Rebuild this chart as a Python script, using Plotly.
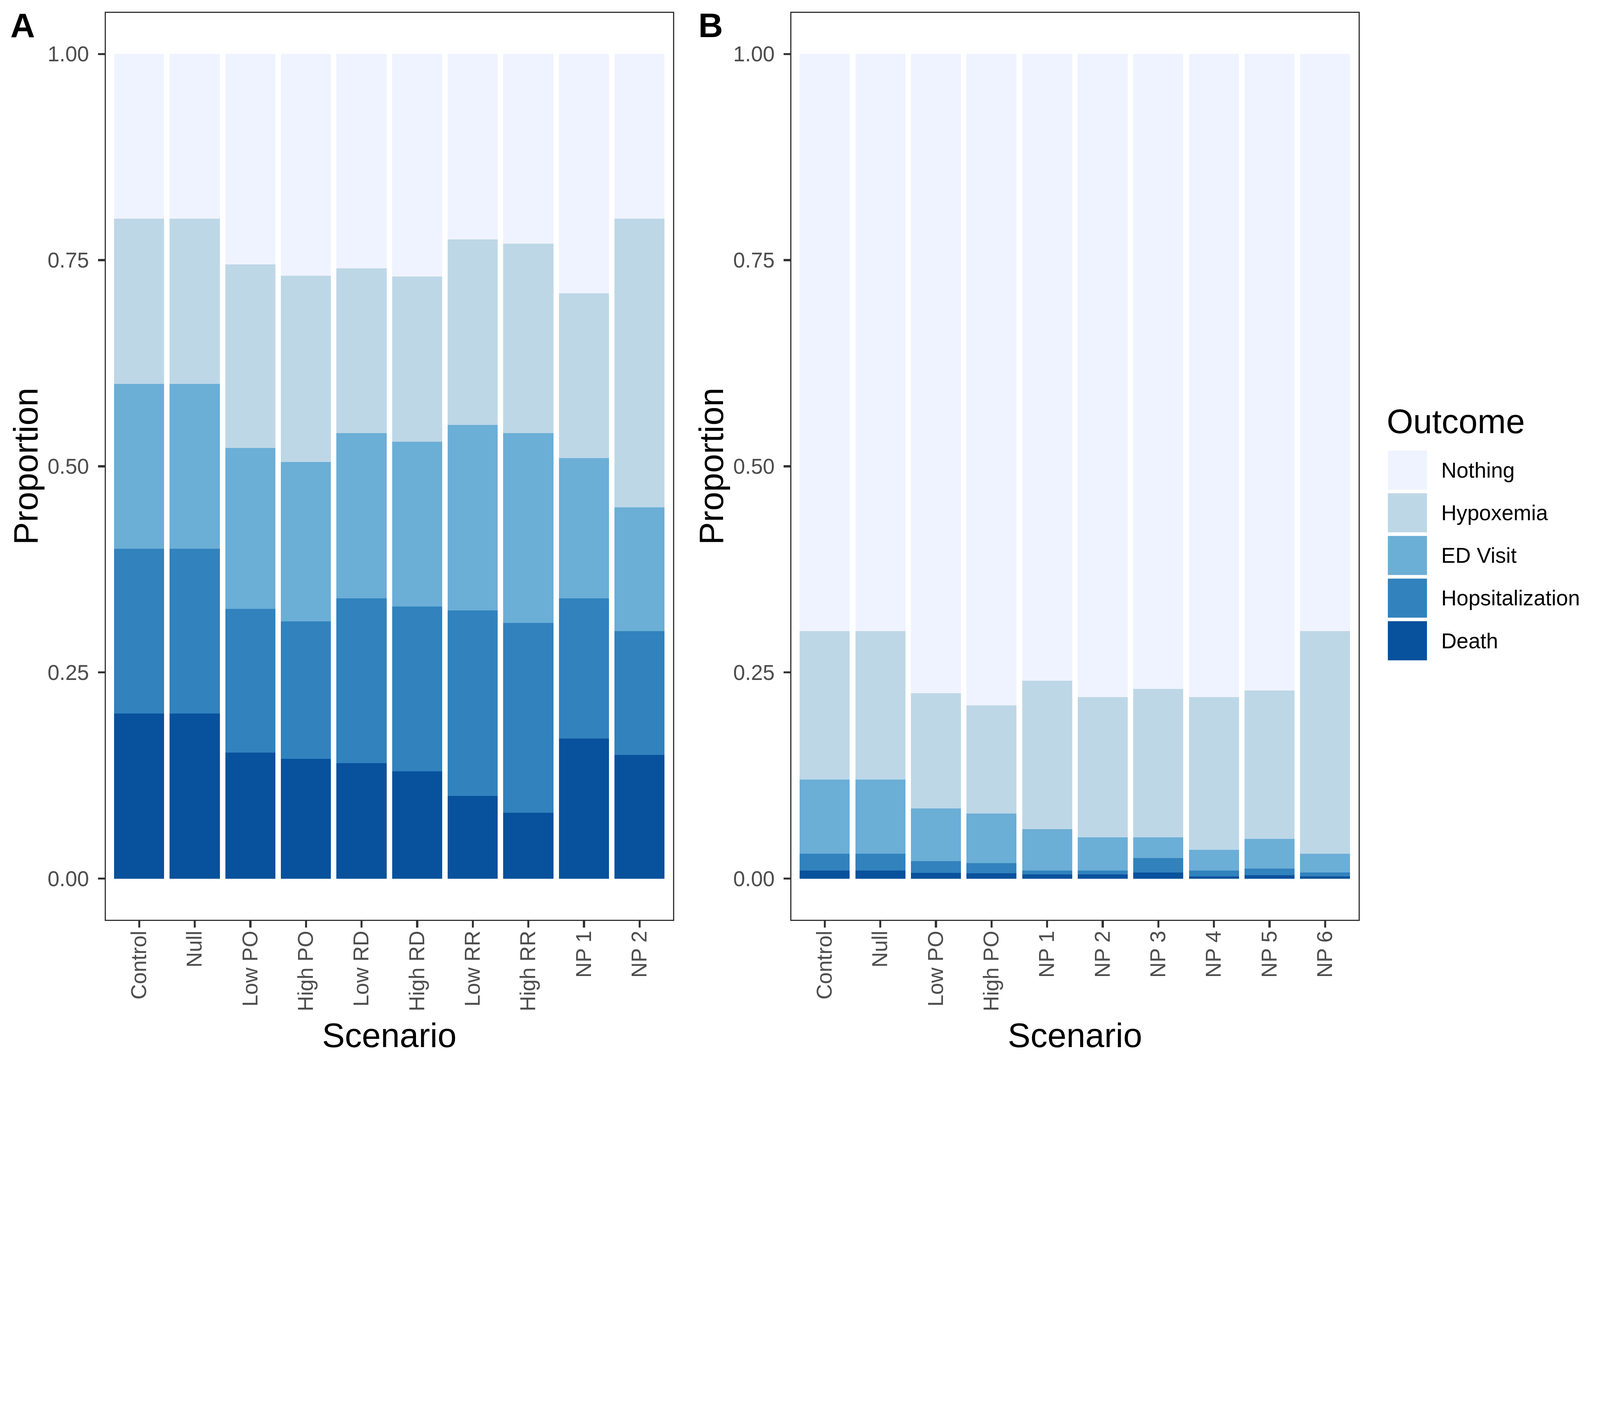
import plotly.graph_objects as go

# ---------------- data ----------------
OUTCOMES = ["Nothing", "Hypoxemia", "ED Visit", "Hopsitalization", "Death"]
COLORS = {
    "Nothing": "#EFF3FF",
    "Hypoxemia": "#BDD7E7",
    "ED Visit": "#6BAED6",
    "Hopsitalization": "#3182BD",
    "Death": "#08519C",
}

# Panel A
scen_a = ["Control", "Null", "Low PO", "High PO", "Low RD", "High RD",
          "Low RR", "High RR", "NP 1", "NP 2"]
a_death = [0.20, 0.20, 0.153, 0.145, 0.14, 0.13, 0.10, 0.08, 0.17, 0.15]
a_hosp = [0.20, 0.20, 0.174, 0.167, 0.20, 0.20, 0.225, 0.23, 0.17, 0.15]
a_ed = [0.20, 0.20, 0.195, 0.193, 0.20, 0.20, 0.225, 0.23, 0.17, 0.15]
a_hyp = [0.20, 0.20, 0.223, 0.226, 0.20, 0.20, 0.225, 0.23, 0.20, 0.35]
a_nothing = [0.20, 0.20, 0.255, 0.269, 0.26, 0.27, 0.225, 0.23, 0.29, 0.20]

# Panel B
scen_b = ["Control", "Null", "Low PO", "High PO", "NP 1", "NP 2",
          "NP 3", "NP 4", "NP 5", "NP 6"]
b_death = [0.010, 0.010, 0.007, 0.0065, 0.005, 0.005, 0.0075, 0.0025, 0.004, 0.0025]
b_hosp = [0.020, 0.020, 0.014, 0.0125, 0.005, 0.005, 0.0175, 0.0075, 0.008, 0.005]
b_ed = [0.090, 0.090, 0.064, 0.060, 0.050, 0.040, 0.025, 0.025, 0.036, 0.0225]
b_hyp = [0.180, 0.180, 0.140, 0.131, 0.180, 0.170, 0.180, 0.185, 0.180, 0.270]
b_nothing = [0.700, 0.700, 0.775, 0.790, 0.760, 0.780, 0.770, 0.780, 0.772, 0.700]

y_ticks = [0.0, 0.25, 0.5, 0.75, 1.0]

FONT = "Liberation Sans, Arial, Helvetica, sans-serif"
W, H = 5400, 3600

fig = go.Figure()

panel_a = {"Death": a_death, "Hopsitalization": a_hosp, "ED Visit": a_ed,
           "Hypoxemia": a_hyp, "Nothing": a_nothing}
panel_b = {"Death": b_death, "Hopsitalization": b_hosp, "ED Visit": b_ed,
           "Hypoxemia": b_hyp, "Nothing": b_nothing}

stack_order = ["Death", "Hopsitalization", "ED Visit", "Hypoxemia", "Nothing"]
for name in stack_order:
    fig.add_trace(go.Bar(x=scen_a, y=panel_a[name], name=name,
                         marker=dict(color=COLORS[name], line=dict(width=0)),
                         xaxis="x", yaxis="y", showlegend=False))
for name in stack_order:
    fig.add_trace(go.Bar(x=scen_b, y=panel_b[name], name=name,
                         marker=dict(color=COLORS[name], line=dict(width=0)),
                         xaxis="x2", yaxis="y2", showlegend=False))

# ---------------- layout ----------------
px_x = lambda v: v / W
px_y = lambda v: 1 - v / H

dom_a = [px_x(357), px_x(2271)]
dom_b = [px_x(2671), px_x(4585)]
dom_y = [px_y(3105), px_y(43)]

common_x = dict(
    type="category", range=[-0.6, 9.6], showgrid=False, zeroline=False,
    showline=True, mirror=True, linecolor="#333333", linewidth=4,
    ticks="outside", ticklen=22, tickwidth=7, tickcolor="#333333",
    tickangle=-90, ticklabelstandoff=-18,
    tickfont=dict(family=FONT, size=72, color="#4D4D4D"),
)
common_y = dict(
    range=[-0.05, 1.05], showgrid=False, zeroline=False,
    showline=True, mirror=True, linecolor="#333333", linewidth=4,
    ticks="outside", ticklen=22, tickwidth=7, tickcolor="#333333",
    tickvals=y_ticks, tickformat=".2f", ticklabelstandoff=16,
    tickfont=dict(family=FONT, size=72, color="#4D4D4D"),
)

fig.update_layout(
    width=W, height=H,
    margin=dict(l=0, r=0, t=0, b=0),
    paper_bgcolor="white", plot_bgcolor="white",
    barmode="stack", bargap=0.1,
    showlegend=False,
    xaxis=dict(domain=dom_a, anchor="y", **common_x),
    yaxis=dict(domain=dom_y, anchor="x", **common_y),
    xaxis2=dict(domain=dom_b, anchor="y2", **common_x),
    yaxis2=dict(domain=dom_y, anchor="x2", **common_y),
    font=dict(family=FONT),
)

ann = []
# axis titles
for cx in [(357 + 2271) / 2, (2671 + 4585) / 2]:
    ann.append(dict(text="Scenario", x=px_x(cx), y=px_y(3495), xref="paper", yref="paper",
                    xanchor="center", yanchor="middle", showarrow=False,
                    font=dict(family=FONT, size=115, color="black")))
for cx in [86, 86 + 2314]:
    ann.append(dict(text="Proportion", x=px_x(cx), y=px_y(1574), xref="paper", yref="paper",
                    xanchor="center", yanchor="middle", showarrow=False, textangle=-90,
                    font=dict(family=FONT, size=115, color="black")))
# panel tags
for tag, lx in [("A", 33), ("B", 2355)]:
    ann.append(dict(text="<b>%s</b>" % tag, x=px_x(lx), y=px_y(85), xref="paper", yref="paper",
                    xanchor="left", yanchor="middle", showarrow=False,
                    font=dict(family=FONT, size=115, color="black")))

# custom legend
ann.append(dict(text="Outcome", x=px_x(4678), y=px_y(1422), xref="paper", yref="paper",
                xanchor="left", yanchor="middle", showarrow=False,
                font=dict(family=FONT, size=115, color="black")))
shapes = []
for i, name in enumerate(OUTCOMES):
    top = 1521 + i * 144
    bot = top + 132
    shapes.append(dict(type="rect", xref="paper", yref="paper",
                       x0=px_x(4684), x1=px_x(4816), y0=px_y(bot), y1=px_y(top),
                       fillcolor=COLORS[name], line=dict(width=0), layer="above"))
    ann.append(dict(text=name, x=px_x(4862), y=px_y((top + bot) / 2), xref="paper", yref="paper",
                    xanchor="left", yanchor="middle", showarrow=False,
                    font=dict(family=FONT, size=72, color="black")))

fig.update_layout(annotations=ann, shapes=shapes)

# Fit the 5400x3600 figure into the actual browser viewport (keeps aspect ratio)
fit_script = """
(function(){
  var gd = document.getElementById('{plot_id}');
  document.body.style.margin = '0';
  document.body.style.overflow = 'hidden';
  var s = Math.min(1, window.innerWidth / 5400, window.innerHeight / 3600);
  if (s < 1) {
    gd.style.transformOrigin = '0 0';
    gd.style.transform = 'scale(' + s + ')';
  }
})();
"""
fig.write_html("out.html", post_script=fit_script, config={"displayModeBar": False})
